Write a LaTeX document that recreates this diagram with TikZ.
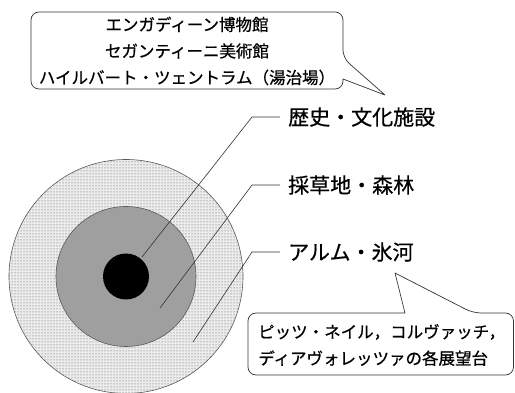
\documentclass[tikz,border=0pt]{standalone}
\usepackage{fontspec}
\newfontfamily\jp[FakeBold=0.6]{Noto Sans CJK JP}
\usetikzlibrary{patterns}
\begin{document}
\begin{tikzpicture}[x=1pt,y=-1pt,
  ring/.style={draw=black!65,line width=0.6pt},
  leader/.style={draw=black!80,line width=0.6pt},
  callout/.style={draw=black!80,line width=0.7pt,fill=white,line join=round},
  lab/.style={anchor=west,inner sep=0pt,font=\jp\fontsize{21}{24}\selectfont},
  boxtext/.style={inner sep=0pt,font=\jp\fontsize{16.5}{26.5}\selectfont}]
\useasboundingbox (0,0) rectangle (515,393);
% circles
\coordinate (c) at (126,276.5);
\fill[gray!15] (c) circle[radius=117];
\path[pattern=dots,pattern color=black!70] (c) circle[radius=117];
\draw[ring] (c) circle[radius=117];
\draw[ring,fill=gray!75] (c) circle[radius=70];
\fill[black] (c) circle[radius=23];
% labels
\node[lab] (l1) at (288,117) {歴史・文化施設};
\node[lab] (l2) at (288,185) {採草地・森林};
\node[lab] (l3) at (288,252) {アルム・氷河};
\coordinate (e1) at (142,257);
\coordinate (e2) at (160,308);
\coordinate (e3) at (193,342);
\draw[leader] ([xshift=-8pt]l1.west) -- ++(-28,0) -- (e1);
\draw[leader] ([xshift=-8pt]l2.west) -- ++(-28,0) -- (e2);
\draw[leader] ([xshift=-8pt]l3.west) -- ++(-28,0) -- (e3);
% top callout
\draw[callout] (385,95) -- (343,79) [rounded corners=8] -- (343,89) -- (31,89) -- (31,12) -- (343,12) -- (343,58) [sharp corners] -- cycle;
\node[boxtext,align=center] (t1) at (187,51) {エンガディーン博物館\\セガンティーニ美術館\\ハイルバート・ツェントラム（湯治場）};
% bottom callout
\draw[callout] (395,273) -- (405,313) [rounded corners=8] -- (248,313) -- (248,375) -- (513.5,375) -- (513.5,313) -- (473,313) [sharp corners] -- cycle;
\node[boxtext,align=left,anchor=west] (t2) at (258,345) {ピッツ・ネイル，コルヴァッチ，\\ディアヴォレッツァの各展望台};
\end{tikzpicture}
\end{document}
